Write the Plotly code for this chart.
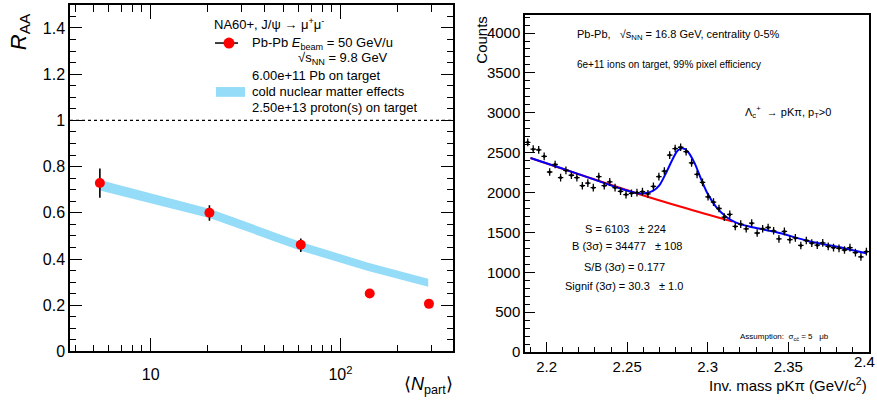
import plotly.graph_objects as go

W, H = 877, 411

# ---------------- Left panel data ----------------
npart = [5.4, 20.4, 61.8, 142.6, 292.6]
raa = [0.729, 0.600, 0.462, 0.251, 0.206]
raa_err_up = [0.063, 0.033, 0.027, 0.0, 0.0]
raa_err_dn = [0.064, 0.034, 0.032, 0.0, 0.0]

cnm_npart = [5.4, 20.4, 61.8, 140.0, 290.0]
cnm_low = [0.697, 0.578, 0.436, 0.348, 0.280]
cnm_high = [0.742, 0.618, 0.474, 0.384, 0.315]

# ---------------- Right panel data ----------------
mass = [2.1883, 2.1917, 2.1951, 2.1985, 2.2019, 2.2053, 2.2087, 2.2120, 2.2154, 2.2188,
        2.2222, 2.2256, 2.2290, 2.2324, 2.2358, 2.2392, 2.2425, 2.2459, 2.2493, 2.2527,
        2.2561, 2.2595, 2.2629, 2.2663, 2.2697, 2.2731, 2.2764, 2.2798, 2.2832, 2.2866,
        2.2900, 2.2934, 2.2968, 2.3002, 2.3036, 2.3070, 2.3103, 2.3137, 2.3171, 2.3205,
        2.3239, 2.3273, 2.3307, 2.3341, 2.3375, 2.3409, 2.3442, 2.3476, 2.3510, 2.3544,
        2.3578, 2.3612, 2.3646, 2.3680, 2.3714, 2.3748, 2.3781, 2.3815, 2.3849, 2.3883,
        2.3917, 2.3951, 2.3985]
counts = [2630, 2544, 2536, 2454, 2258, 2352, 2188, 2278, 2217, 2188,
          2086, 2119, 2061, 2200, 2086, 2135, 2061, 2016, 1975, 1991,
          2000, 2012, 1984, 2077, 2200, 2270, 2470, 2552, 2568, 2512,
          2372, 2229, 2127, 1947, 1881, 1800, 1693, 1726, 1575, 1604,
          1546, 1616, 1493, 1546, 1562, 1521, 1420, 1513, 1411, 1432,
          1337, 1399, 1366, 1341, 1370, 1325, 1309, 1301, 1280, 1309,
          1248, 1194, 1260]

fit_x = [2.190, 2.2083, 2.2289, 2.2454, 2.2557, 2.2608, 2.2660, 2.2701, 2.2742, 2.2783,
         2.2814, 2.2845, 2.2876, 2.2918, 2.2959, 2.3000, 2.3052, 2.3114, 2.3176, 2.3258,
         2.3423, 2.3629, 2.3835, 2.3984]
fit_y = [2433, 2311, 2168, 2053, 1995, 1990, 2020, 2094, 2249, 2421,
         2528, 2556, 2515, 2372, 2168, 1984, 1820, 1697, 1623, 1574,
         1506, 1390, 1309, 1239]

bkg_x = [2.190, 2.220, 2.2557, 2.285, 2.3155]
bkg_y = [2433, 2230, 1992, 1812, 1636]

FONT = "Liberation Sans, Arial, Helvetica, sans-serif"


def px(x):
    return x / W


def py(y):
    return 1 - y / H


fig = go.Figure()

# CNM band
fig.add_trace(go.Scatter(x=cnm_npart, y=cnm_low, mode="lines", line=dict(width=0, color="#95dcf8"),
                         xaxis="x", yaxis="y", showlegend=False, hoverinfo="skip"))
fig.add_trace(go.Scatter(x=cnm_npart, y=cnm_high, mode="lines", line=dict(width=0, color="#95dcf8"),
                         fill="tonexty", fillcolor="#95dcf8", xaxis="x", yaxis="y", showlegend=False))
# RAA points
fig.add_trace(go.Scatter(x=npart, y=raa, mode="markers",
                         marker=dict(color="#ff0000", size=10, line=dict(width=0)),
                         error_y=dict(type="data", array=raa_err_up, arrayminus=raa_err_dn,
                                      color="black", thickness=1.6, width=0),
                         xaxis="x", yaxis="y", showlegend=False))

# Right panel: fits
fig.add_trace(go.Scatter(x=bkg_x, y=bkg_y, mode="lines", line=dict(color="#ff0000", width=2, shape="spline"),
                         xaxis="x2", yaxis="y2", showlegend=False))
fig.add_trace(go.Scatter(x=fit_x, y=fit_y, mode="lines", line=dict(color="#0000ff", width=2, shape="spline", smoothing=0.8),
                         xaxis="x2", yaxis="y2", showlegend=False))
# data points
fig.add_trace(go.Scatter(x=mass, y=counts, mode="markers",
                         marker=dict(color="black", size=3),
                         error_y=dict(type="constant", value=48, color="black", thickness=1.3, width=0),
                         error_x=dict(type="constant", value=0.0017, color="black", thickness=1.3, width=0),
                         xaxis="x2", yaxis="y2", showlegend=False))

axis_common = dict(showline=True, linecolor="black", linewidth=1.5, ticks="inside",
                   tickcolor="black", showgrid=False, zeroline=False,
                   tickfont=dict(family=FONT, size=16, color="black"))

fig.update_layout(
    width=W, height=H, margin=dict(l=0, r=0, t=0, b=0),
    paper_bgcolor="white", plot_bgcolor="white",
    font=dict(family=FONT, color="black"),
    xaxis=dict(domain=[70 / W, 453 / W], type="log", range=[0.575, 2.593], anchor="y",
               tickvals=[10, 100], ticktext=["10", "10<sup>2</sup>"], ticklen=14, tickwidth=1.3,
               mirror="allticks", ticklabelstandoff=8,
               minor=dict(ticks="inside", ticklen=7, tickcolor="black", tickwidth=1.3,
                          tickvals=[4, 5, 6, 7, 8, 9, 20, 30, 40, 50, 60, 70, 80, 90, 200, 300]),
               **axis_common),
    yaxis=dict(domain=[1 - 359.3 / H, 1 - 5 / H], range=[0, 1.5], anchor="x",
               dtick=0.2, tick0=0, ticklen=12, tickwidth=1.3, mirror="allticks",
               tickformat="~g",
               minor=dict(ticks="inside", ticklen=6, tickcolor="black", dtick=0.05, tickwidth=1.3),
               **axis_common),
    xaxis2=dict(domain=[525 / W, 869.3 / W], range=[2.1866, 2.4003], anchor="y2",
                dtick=0.05, tick0=2.2, ticklen=10, tickwidth=1.2, mirror=True,
                minor=dict(ticks="inside", ticklen=5, tickcolor="black", dtick=0.01, tickwidth=1),
                **{**axis_common, "tickfont": dict(family=FONT, size=15, color="black")}),
    yaxis2=dict(domain=[1 - 360 / H, 1 - 15 / H], range=[0, 4230], anchor="x2",
                dtick=500, tick0=0, ticklen=10, tickwidth=1.2, mirror=True,
                minor=dict(ticks="inside", ticklen=5, tickcolor="black", dtick=100, tickwidth=1),
                **{**axis_common, "tickfont": dict(family=FONT, size=15, color="black")}),
)

# dashed line at RAA = 1
fig.add_shape(type="line", xref="x domain", yref="y", x0=0, x1=1, y0=1, y1=1,
              line=dict(color="black", width=1.3, dash="dot"))

# Left legend
fig.add_shape(type="line", xref="paper", yref="paper", x0=px(215), x1=px(238), y0=py(44), y1=py(44),
              line=dict(color="black", width=1.5))
fig.add_shape(type="circle", xref="paper", yref="paper", xsizemode="pixel", ysizemode="pixel",
              xanchor=px(229), yanchor=py(44), x0=-5.5, x1=5.5, y0=-5.5, y1=5.5,
              fillcolor="#ff0000", line=dict(width=0))
fig.add_shape(type="rect", xref="paper", yref="paper", x0=px(216), x1=px(245), y0=py(99), y1=py(89),
              fillcolor="#95dcf8", line=dict(width=0))

ann = []


def text(x, y, s, size=13, xanchor="left", yanchor="middle", angle=0):
    ann.append(dict(x=px(x), y=py(y), xref="paper", yref="paper", text=s, showarrow=False,
                    xanchor=xanchor, yanchor=yanchor, textangle=angle,
                    font=dict(family=FONT, size=size, color="black")))


text(212, 25, "NA60+, J/ψ → μ<sup>+</sup>μ<sup>-</sup>", 13)
text(250, 44, "Pb-Pb <i>E</i><sub>beam</sub> = 50 GeV/u", 13)
text(296, 60, "√s<sub>NN</sub> = 9.8 GeV", 13)
text(250, 77, "6.00e+11 Pb on target", 13)
text(250, 94, "cold nuclear matter effects", 13)
text(250, 110, "2.50e+13 proton(s) on target", 13)

# Left axis titles
text(20, 12, "<i>R</i><sub>AA</sub>", 22, xanchor="center", yanchor="top", angle=-90)
text(455, 394, "⟨<i>N</i><sub>part</sub>⟩", 18, xanchor="right")

# Right panel texts
text(575, 36, "Pb-Pb,   √s<sub>NN</sub> = 16.8 GeV, centrality 0-5%", 11)
text(575, 66, "6e+11 ions on target, 99% pixel efficiency", 10)
text(743, 115, "Λ<sub>c</sub><sup>+</sup>  → pKπ, p<sub>T</sub>>0", 11)
text(625, 234, "S = 6103   ± 224", 11, xanchor="center")
text(627, 252, "B (3σ) = 34477   ± 108", 11, xanchor="center")
text(624, 273, "S/B (3σ) = 0.177", 11, xanchor="center")
text(624, 292, "Signif (3σ) = 30.3   ± 1.0", 11, xanchor="center")
text(738, 345, "Assumption:  σ<sub>cc̄</sub> = 5   μb", 8)

text(482, 14, "Counts", 15, xanchor="center", yanchor="top", angle=-90)
text(869, 393, "Inv. mass pKπ (GeV/c<sup>2</sup>)", 15, xanchor="right")
# last x tick label (cut by the image edge in the reference)
text(877, 370, "2.4", 15, xanchor="right")

fig.update_layout(annotations=ann)

fig.write_html("out.html", config={"displayModeBar": False},
               post_script="document.body.style.margin='0px';document.body.style.overflow='hidden';")
